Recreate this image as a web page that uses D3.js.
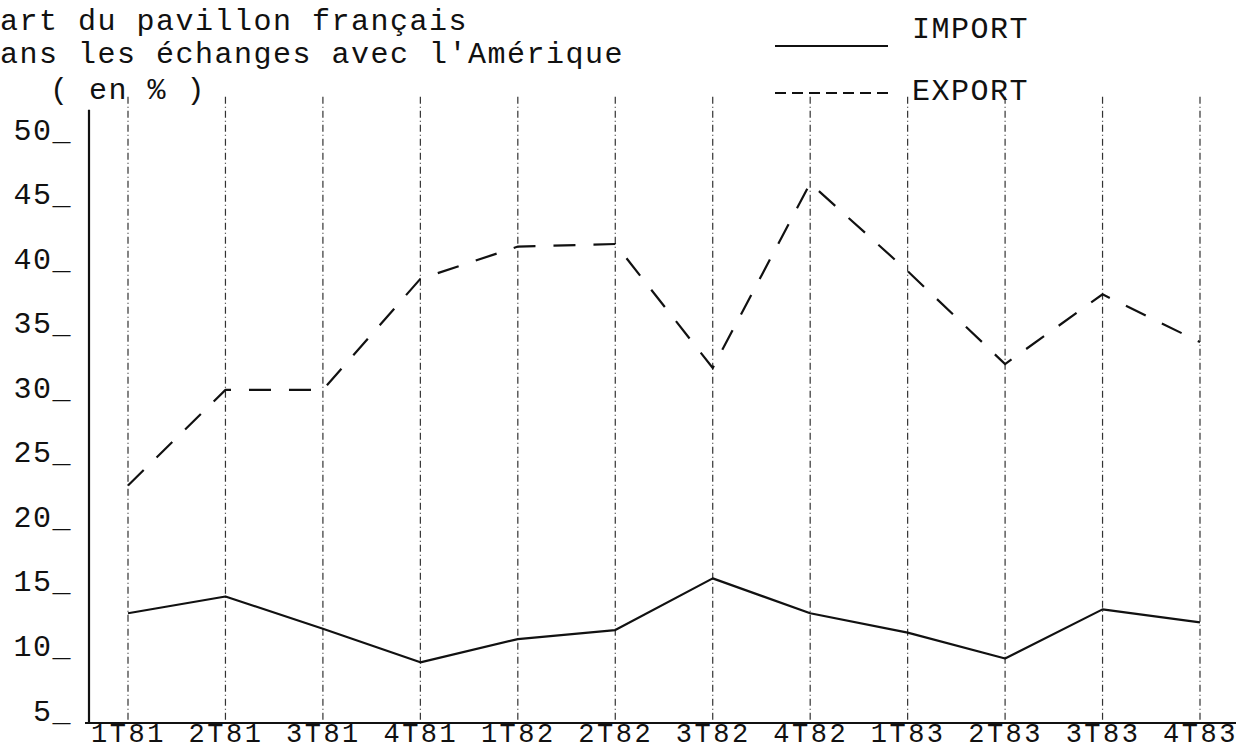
<!DOCTYPE html>
<html>
<head>
<meta charset="utf-8">
<script src="https://cdn.jsdelivr.net/npm/d3@7"></script>
<style>
  body { margin: 0; background: #fff; }
  text { font-family: 'Liberation Mono', 'DejaVu Sans Mono', monospace; fill: #111; }
</style>
</head>
<body>
<div class="canvas"></div>
<script>
// data (% share of french flag)
const quarters = ['1T81', '2T81', '3T81', '4T81', '1T82', '2T82', '3T82', '4T82', '1T83', '2T83', '3T83', '4T83'];
const importValues = [13.5, 14.8, 12.3, 9.7, 11.5, 12.2, 16.2, 13.5, 12.0, 10.0, 13.8, 12.8];
const exportValues = [23.4, 30.8, 30.8, 39.4, 41.9, 42.1, 32.5, 46.8, 40.0, 32.8, 38.2, 34.5];
const yTicks = [5, 10, 15, 20, 25, 30, 35, 40, 45, 50];
const titleLines = ["art du pavillon français", "ans les échanges avec l'Amérique"];
const unitLabel = '( en % )';
const legendNames = ['IMPORT', 'EXPORT'];

const svg = d3.select('.canvas')
  .append('svg')
    .attr('width', 1239)
    .attr('height', 751);

// typewriter look: ~19.5px per character
const fontSize = 30;
const spacing = 1.5;

// scales
const x = d3.scalePoint()
  .domain(quarters)
  .range([128, 1200]);

const y = d3.scaleLinear()
  .domain([5, 50])
  .range([723, 142]);

// vertical guide lines at each quarter
svg.append('g')
  .selectAll('line')
  .data(quarters)
  .enter()
  .append('line')
    .attr('x1', d => x(d))
    .attr('x2', d => x(d))
    .attr('y1', y(53.5))
    .attr('y2', y(5))
    .attr('stroke', '#333')
    .attr('stroke-width', 1.2)
    .attr('stroke-dasharray', '7,3,1,3');

// y axis line
svg.append('line')
  .attr('x1', 89).attr('x2', 89)
  .attr('y1', y(52.5)).attr('y2', y(5))
  .attr('stroke', '#111')
  .attr('stroke-width', 2.2);

// x axis line
svg.append('line')
  .attr('x1', 85).attr('x2', 1236)
  .attr('y1', y(5)).attr('y2', y(5))
  .attr('stroke', '#111')
  .attr('stroke-width', 2);

// y tick labels, typed with underscore on the value
const yAxis = d3.axisLeft(y)
  .tickValues(yTicks)
  .tickSize(0)
  .tickPadding(0)
  .tickFormat(d => d + '_');

const yAxisGroup = svg.append('g')
  .attr('transform', 'translate(72, 0)')
  .call(yAxis);
yAxisGroup.select('.domain').remove();
yAxisGroup.selectAll('text')
  .attr('dy', '-0.1em')
  .attr('x', 0)
  .style('font-size', fontSize + 'px')
  .style('letter-spacing', spacing + 'px')
  .style('font-family', "'Liberation Mono', monospace")
  .attr('fill', '#111');

// x tick labels (a bit smaller so they stay inside the bottom edge)
const xAxis = d3.axisBottom(x)
  .tickSize(0)
  .tickPadding(0);

const xAxisGroup = svg.append('g')
  .attr('transform', `translate(0, ${y(5)})`)
  .call(xAxis);
xAxisGroup.select('.domain').remove();
xAxisGroup.selectAll('text')
  .attr('dy', null)
  .attr('y', 19)
  .style('font-size', '27px')
  .style('letter-spacing', '2.5px')
  .style('font-family', "'Liberation Mono', monospace")
  .attr('fill', '#111');

// lines
const line = d3.line()
  .x((d, i) => x(quarters[i]))
  .y(d => y(d));

svg.append('path')
  .attr('d', line(importValues))
  .attr('fill', 'none')
  .attr('stroke', '#111')
  .attr('stroke-width', 2.2)
  .attr('stroke-linejoin', 'round');

svg.append('path')
  .attr('d', line(exportValues))
  .attr('fill', 'none')
  .attr('stroke', '#111')
  .attr('stroke-width', 2.2)
  .attr('stroke-dasharray', '22,18');

// title block
svg.selectAll('.title')
  .data(titleLines)
  .enter()
  .append('text')
    .attr('class', 'title')
    .attr('x', 0)
    .attr('y', (d, i) => 30 + i * 33)
    .style('font-size', fontSize + 'px')
    .style('letter-spacing', spacing + 'px')
    .text(d => d);

svg.append('text')
  .attr('x', 50)
  .attr('y', 99)
  .style('font-size', fontSize + 'px')
  .style('letter-spacing', spacing + 'px')
  .text(unitLabel);

// legend
const legendGroup = svg.append('g');

legendGroup.append('line')
  .attr('x1', 775).attr('x2', 888)
  .attr('y1', 46).attr('y2', 46)
  .attr('stroke', '#111')
  .attr('stroke-width', 2.2);

legendGroup.append('line')
  .attr('x1', 775).attr('x2', 888)
  .attr('y1', 93).attr('y2', 93)
  .attr('stroke', '#111')
  .attr('stroke-width', 2.2)
  .attr('stroke-dasharray', '11,6');

legendGroup.selectAll('.legend-label')
  .data(legendNames)
  .enter()
  .append('text')
    .attr('class', 'legend-label')
    .attr('x', 912)
    .attr('y', (d, i) => 38 + i * 62)
    .style('font-size', fontSize + 'px')
    .style('letter-spacing', spacing + 'px')
    .text(d => d);
</script>
</body>
</html>
